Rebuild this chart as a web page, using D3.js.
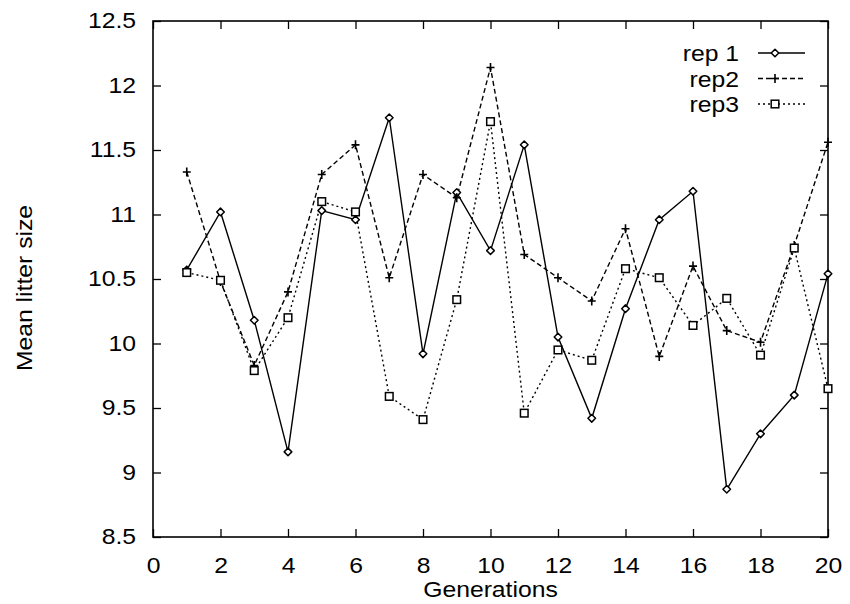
<!DOCTYPE html>
<html><head><meta charset="utf-8">
<script src="https://cdn.jsdelivr.net/npm/d3@7"></script>
<style>body{margin:0;background:#fff}svg{display:block}text{font-family:"Liberation Sans",Arial,Helvetica,sans-serif;fill:#000}</style>
</head><body>
<svg id="c" width="850" height="604"></svg>
<script>
const generations = d3.range(1, 21);
const rep1 = [10.57, 11.02, 10.18, 9.16, 11.03, 10.96, 11.75, 9.92, 11.17, 10.72, 11.54, 10.05, 9.42, 10.27, 10.96, 11.18, 8.87, 9.30, 9.60, 10.54];
const rep2 = [11.33, 10.48, 9.83, 10.40, 11.31, 11.54, 10.51, 11.31, 11.13, 12.14, 10.69, 10.51, 10.33, 10.89, 9.90, 10.60, 10.10, 10.01, 10.76, 11.56];
const rep3 = [10.55, 10.49, 9.79, 10.20, 11.10, 11.02, 9.59, 9.41, 10.34, 11.72, 9.46, 9.95, 9.87, 10.58, 10.51, 10.14, 10.35, 9.91, 10.74, 9.65];
const seriesNames = ["rep 1", "rep2", "rep3"];
const xTicks = [0, 2, 4, 6, 8, 10, 12, 14, 16, 18, 20];
const yTicks = [8.5, 9, 9.5, 10, 10.5, 11, 11.5, 12, 12.5];

const svg = d3.select("#c");
const L = 153, R = 828, T = 21, B = 537;
const x = d3.scaleLinear().domain([0, 20]).range([L, R]);
const y = d3.scaleLinear().domain([8.5, 12.5]).range([B, T]);
const fs = 21.5, sx = 1.15;

// axes with inward ticks
const tk = 8;
const gB = svg.append("g").attr("transform", `translate(0,${B})`)
  .call(d3.axisBottom(x).tickValues(xTicks).tickSize(-tk).tickPadding(21).tickFormat(d3.format("d")));
const gT = svg.append("g").attr("transform", `translate(0,${T})`)
  .call(d3.axisTop(x).tickValues(xTicks).tickSize(-tk).tickFormat(""));
const gL = svg.append("g").attr("transform", `translate(${L},0)`)
  .call(d3.axisLeft(y).tickValues(yTicks).tickSize(-tk).tickPadding(17).tickFormat(d => String(d)));
const gR = svg.append("g").attr("transform", `translate(${R},0)`)
  .call(d3.axisRight(y).tickValues(yTicks).tickSize(-tk).tickFormat(""));
[gB, gT, gL, gR].forEach(g => {
  g.select(".domain").remove();
  g.selectAll(".tick line").attr("stroke", "#000").attr("stroke-width", 1.3);
  g.selectAll(".tick text").attr("font-size", fs).attr("font-family", "Liberation Sans, Arial, sans-serif").attr("fill", "#000");
});
gL.selectAll(".tick text").attr("x", -17 / sx).attr("transform", `scale(${sx},1)`);
gB.selectAll(".tick text").attr("transform", `scale(${sx},1)`);

svg.append("rect").attr("x", L).attr("y", T).attr("width", R - L).attr("height", B - T)
  .attr("fill", "none").attr("stroke", "#000").attr("stroke-width", 1.6);

// axis titles
svg.append("text").attr("transform", `translate(${(L + R) / 2},597) scale(${sx},1)`).attr("text-anchor", "middle")
  .attr("font-size", fs).text("Generations");
svg.append("text").attr("transform", `translate(32,288) rotate(-90) scale(${sx},1)`).attr("text-anchor", "middle")
  .attr("font-size", fs).text("Mean litter size");

const series = [
  { name: seriesNames[0], vals: rep1, dash: null, marker: "diamond" },
  { name: seriesNames[1], vals: rep2, dash: "5,3", marker: "plus" },
  { name: seriesNames[2], vals: rep3, dash: "2,3", marker: "square" }
];

const line = d3.line().x((d, i) => x(generations[i])).y(d => y(d));

function drawMarker(g, type, cx, cy) {
  if (type === "diamond") {
    g.append("path").attr("d", `M${cx},${cy - 3.8}L${cx + 3.8},${cy}L${cx},${cy + 3.8}L${cx - 3.8},${cy}Z`)
      .attr("fill", "#fff").attr("stroke", "#000").attr("stroke-width", 1.5).attr("stroke-linejoin", "round");
  } else if (type === "plus") {
    g.append("path").attr("d", `M${cx - 4},${cy}H${cx + 4}M${cx},${cy - 4.5}V${cy + 4.5}`)
      .attr("stroke", "#000").attr("stroke-width", 1.6).attr("fill", "none");
  } else {
    g.append("rect").attr("x", cx - 3.8).attr("y", cy - 3.8).attr("width", 7.6).attr("height", 7.6)
      .attr("fill", "#fff").attr("stroke", "#000").attr("stroke-width", 1.5);
  }
}

series.forEach(s => {
  svg.append("path").datum(s.vals).attr("d", line).attr("fill", "none")
    .attr("stroke", "#000").attr("stroke-width", 1.4)
    .attr("stroke-dasharray", s.dash);
});
series.forEach(s => {
  const g = svg.append("g");
  s.vals.forEach((v, i) => drawMarker(g, s.marker, x(generations[i]), y(v)));
});

// legend
series.forEach((s, i) => {
  const ly = 53 + i * 25.5;
  svg.append("text").attr("transform", `translate(739,${ly + 8}) scale(${sx},1)`).attr("text-anchor", "end")
    .attr("font-size", fs).text(s.name);
  svg.append("line").attr("x1", 758).attr("x2", 805).attr("y1", ly).attr("y2", ly)
    .attr("stroke", "#000").attr("stroke-width", 1.4).attr("stroke-dasharray", s.dash);
  const g = svg.append("g");
  drawMarker(g, s.marker, 775, ly);
});
</script>
</body></html>
